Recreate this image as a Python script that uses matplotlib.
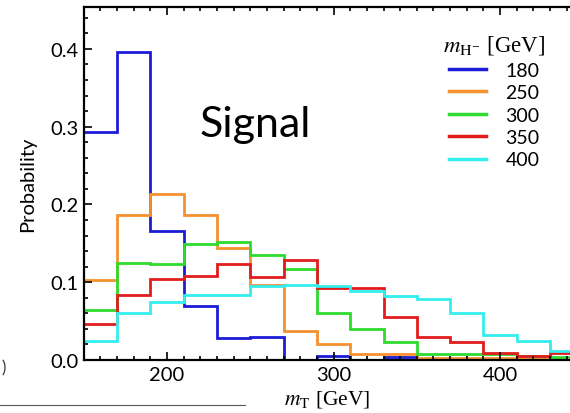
import numpy as np
import matplotlib.pyplot as plt
from matplotlib.ticker import MultipleLocator

plt.rcParams['mathtext.fontset'] = 'stix'

# bin edges of the transverse mass histograms [GeV]
edges = np.arange(150, 451, 20)

# normalised mT distributions for each charged Higgs mass
masses = ['180', '250', '300', '350', '400']
p180 = [0.293, 0.396, 0.166, 0.070, 0.028, 0.030, 0.000, 0.005, 0.000, 0.004, 0.000, 0.000, 0.000, 0.000, 0.000]
p250 = [0.103, 0.187, 0.213, 0.186, 0.144, 0.097, 0.037, 0.020, 0.008, 0.008, 0.002, 0.002, 0.002, 0.001, 0.001]
p300 = [0.064, 0.125, 0.124, 0.149, 0.152, 0.135, 0.117, 0.061, 0.040, 0.023, 0.008, 0.008, 0.008, 0.005, 0.004]
p350 = [0.046, 0.084, 0.104, 0.108, 0.123, 0.107, 0.128, 0.092, 0.092, 0.055, 0.030, 0.023, 0.009, 0.005, 0.009]
p400 = [0.024, 0.061, 0.075, 0.084, 0.083, 0.095, 0.096, 0.095, 0.089, 0.082, 0.078, 0.061, 0.032, 0.025, 0.012]
colors = ['#1c1cd8', '#f5912e', '#2edb2e', '#e21c1c', '#33eeee']

fig = plt.figure(figsize=(5.7, 4.14), dpi=100)
ax = fig.add_axes([0.147, 0.128, 0.853, 0.853])

for vals, c, lab in zip([p180, p250, p300, p350, p400], colors, masses):
    ax.stairs(vals, edges, baseline=None, color=c, lw=2.0, label=lab)

ax.set_xlim(150, 442)
ax.set_ylim(0, 0.454)
ax.xaxis.set_major_locator(MultipleLocator(100))
ax.xaxis.set_minor_locator(MultipleLocator(10))
ax.yaxis.set_major_locator(MultipleLocator(0.1))
ax.yaxis.set_minor_locator(MultipleLocator(0.02))
ax.yaxis.set_major_formatter(plt.FuncFormatter(lambda v, p: f'{v:.1f}'))
ax.tick_params(which='both', direction='in', top=True, right=False, width=1.2)
ax.tick_params(which='major', length=6, labelsize=14.5, pad=4)
ax.tick_params(which='minor', length=3)
for lbl in ax.get_xticklabels() + ax.get_yticklabels():
    lbl.set_fontfamily('Lato')
for s in ax.spines.values():
    s.set_linewidth(1.6)
ax.spines['right'].set_visible(False)

ax.set_ylabel('Probability', fontsize=14.5, fontfamily='Lato', labelpad=10)
ax.set_xlabel(r'$m_{\mathrm{T}}$ [GeV]', fontsize=15.5, fontfamily='Liberation Serif', labelpad=4)

ax.text(0.352, 0.668, 'Signal', transform=ax.transAxes, fontsize=31,
        fontfamily='Lato', ha='center', va='center')

leg = ax.legend(title=r'$m_{\mathrm{H}^{-}}$ [GeV]', frameon=False, loc='upper right',
                bbox_to_anchor=(0.985, 0.975), handlelength=1.9, handletextpad=1.0,
                labelspacing=0.28, prop={'family': 'Lato', 'size': 14})
leg.get_title().set_fontfamily('Liberation Serif')
leg.get_title().set_fontsize(16.5)
for h in leg.get_lines():
    h.set_linewidth(2.5)

# slide rule below the plot
fig.add_artist(plt.Line2D([0, 0.43], [0.02, 0.02], color='#555555', lw=0.8))
fig.text(0.003, 0.098, ')', fontsize=12, fontfamily='Lato', color='#333333')

fig.savefig('out.png', dpi=100)
